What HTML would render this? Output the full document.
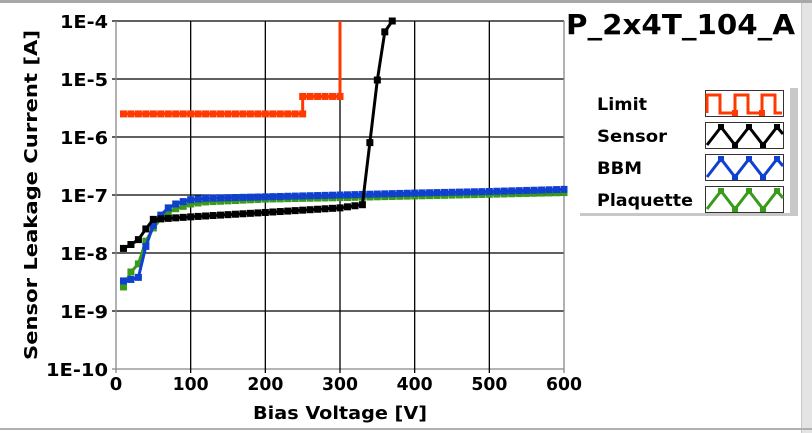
<!DOCTYPE html>
<html><head><meta charset="utf-8"><style>
html,body{margin:0;padding:0;background:#fff;}
body{width:812px;height:433px;overflow:hidden;position:relative;font-family:"DejaVu Sans",sans-serif;}
svg{position:absolute;left:0;top:0;}
text{font-family:"DejaVu Sans","Liberation Sans",sans-serif;font-weight:bold;fill:#000;}
</style></head><body>
<svg id="s" width="812" height="433" viewBox="0 0 812 433" xmlns="http://www.w3.org/2000/svg">
<rect x="0" y="0" width="812" height="3" fill="#a8a8a8"/>
<rect x="801" y="3" width="11" height="430" fill="#e4e4e4"/>
<line x1="801.5" y1="3" x2="801.5" y2="433" stroke="#c8c8c8"/>
<rect x="0" y="428" width="812" height="2" fill="#b0b0b0"/>
<g id="grid"></g>
<g id="data"></g>
<text x="37" y="195" font-size="18" text-anchor="middle" textLength="330" lengthAdjust="spacingAndGlyphs" transform="rotate(-90 37 195)">Sensor Leakage Current [A]</text>
<text x="340" y="419" font-size="18" text-anchor="middle" textLength="174" lengthAdjust="spacingAndGlyphs">Bias Voltage [V]</text>
<text x="566" y="34" font-size="28" textLength="229" lengthAdjust="spacingAndGlyphs">P_2x4T_104_A</text>
<rect x="790" y="88" width="8" height="128" fill="#c8c8c8"/>
<rect x="580" y="213" width="218" height="3" fill="#c8c8c8"/>
<text x="597" y="110" font-size="17" textLength="50" lengthAdjust="spacingAndGlyphs">Limit</text>
<text x="597" y="142" font-size="17" textLength="70" lengthAdjust="spacingAndGlyphs">Sensor</text>
<text x="597" y="174" font-size="17" textLength="45" lengthAdjust="spacingAndGlyphs">BBM</text>
<text x="597" y="206" font-size="17" textLength="96" lengthAdjust="spacingAndGlyphs">Plaquette</text>
<g id="leg"></g>
</svg>
<script>
var NS="http://www.w3.org/2000/svg";
function el(p,t,a){var e=document.createElementNS(NS,t);for(var k in a)e.setAttribute(k,a[k]);p.appendChild(e);return e;}
var L=116,R=564,T=21,B=369;
function X(v){return L+v*(R-L)/600;}
function Y(i){return T+(-4-Math.log10(i))*58;}
var g=document.getElementById('grid');
for(var d=0;d<=6;d++){var y=T+d*58;el(g,'line',{x1:L-4,y1:y,x2:R,y2:y,stroke:d==6?'#888':'#000','stroke-width':1.3});
 var t=el(g,'text',{x:108,y:y+7,'font-size':18,'text-anchor':'end',textLength:d==6?62:48,lengthAdjust:'spacingAndGlyphs'});t.textContent='1E-'+(4+d);}
for(var v=0;v<=600;v+=100){var x=X(v);el(g,'line',{x1:x,y1:T,x2:x,y2:B+4,stroke:(v==0||v==600)?'#888':'#000','stroke-width':1.3});
 var a={x:x,y:390,'font-size':18,'text-anchor':'middle'};if(v>0){a.textLength=36;a.lengthAdjust='spacingAndGlyphs';}
 var t=el(g,'text',a);t.textContent=v;}
function interp(anch,from,to){var pts=[];for(var v=from;v<=to;v+=10){var i;for(var k=0;k<anch.length-1;k++){if(v>=anch[k][0]&&v<=anch[k+1][0]){var f=(v-anch[k][0])/(anch[k+1][0]-anch[k][0]);i=Math.pow(10,Math.log10(anch[k][1])*(1-f)+Math.log10(anch[k+1][1])*f);break;}}pts.push([X(v),Y(i)]);}return pts;}
function draw(pts,c,extra){var gd=document.getElementById('data');var all=pts.concat(extra||[]);
 el(gd,'polyline',{points:all.map(function(p){return p[0]+','+p[1]}).join(' '),fill:'none',stroke:c,'stroke-width':3});
 pts.forEach(function(p){el(gd,'rect',{x:p[0]-3.5,y:p[1]-3.5,width:7,height:7,fill:c});});}
var plaq=interp([[10,2.6e-9],[20,4.7e-9],[30,6.5e-9],[40,1.6e-8],[50,2.7e-8],[60,3.9e-8],[70,5e-8],[80,5.8e-8],[100,7e-8],[120,7.6e-8],[200,8.5e-8],[300,9e-8],[600,1.1e-7]],10,600);
var bbm=interp([[10,3.3e-9],[20,3.5e-9],[30,3.8e-9],[40,1.3e-8],[50,3e-8],[60,4.5e-8],[70,6e-8],[80,7e-8],[90,7.7e-8],[100,8.3e-8],[120,8.8e-8],[200,9.3e-8],[300,1e-7],[400,1.08e-7],[500,1.15e-7],[600,1.25e-7]],10,600);
var sens=interp([[10,1.2e-8],[20,1.4e-8],[30,1.7e-8],[40,2.6e-8],[50,3.8e-8],[100,4.2e-8],[200,5e-8],[300,6e-8],[330,6.8e-8],[340,8e-7],[350,9.6e-6],[360,6.5e-5],[370,1e-4]],10,370);
var lim1=[];for(var v=10;v<=250;v+=10)lim1.push([X(v),Y(2.5e-6)]);
var lim2=[];for(var v=260;v<=300;v+=10)lim2.push([X(v),Y(5e-6)]);
draw(plaq,'#3a9a1a');draw(bbm,'#1040d0');draw(sens,'#000');
draw(lim1.concat([[X(250),Y(5e-6)]]).concat(lim2),'#ff3a00',[[X(300),T]]);
var lg=document.getElementById('leg');
var cols=['#ff3a00','#000','#1040d0','#3a9a1a'];
for(var r=0;r<4;r++){var y0=90+r*32;el(lg,'rect',{x:705.5,y:y0+.5,width:78,height:26,fill:'#fff',stroke:'#333'});
 var p=[];
 if(r==0){p=[[707,y0+23],[707,y0+5],[720,y0+5],[720,y0+23],[735,y0+23],[735,y0+5],[748,y0+5],[748,y0+23],[762,y0+23],[762,y0+5],[775,y0+5],[775,y0+23],[782,y0+23]];}
 else{p=[[707,y0+23],[721,y0+5],[735,y0+23],[749,y0+5],[763,y0+23],[777,y0+5],[783,y0+12]];}
 el(lg,'polyline',{points:p.map(function(q){return q[0]+','+q[1]}).join(' '),fill:'none',stroke:cols[r],'stroke-width':3});
 var m=r==0?[[735,y0+23],[762,y0+23]]:p.slice(1,6);
 m.forEach(function(q){el(lg,'rect',{x:q[0]-3,y:q[1]-3,width:6,height:6,fill:cols[r]});});}
</script>
</body></html>
